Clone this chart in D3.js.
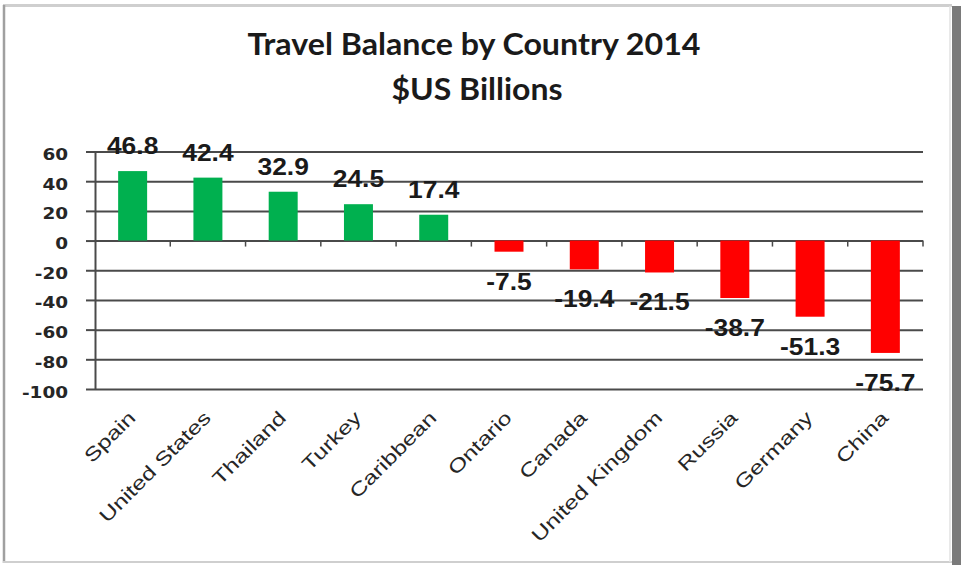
<!DOCTYPE html>
<html>
<head>
<meta charset="utf-8">
<script src="https://cdn.jsdelivr.net/npm/d3@7"></script>
<style>
  html, body { margin: 0; padding: 0; background: #ffffff; }
  svg { display: block; }
</style>
</head>
<body>
<svg id="chart" width="961" height="565"></svg>
<script>
const titleLines = ["Travel Balance by Country 2014", "$US Billions"];
const categories = ["Spain", "United States", "Thailand", "Turkey", "Caribbean", "Ontario", "Canada", "United Kingdom", "Russia", "Germany", "China"];
const values = [46.8, 42.4, 32.9, 24.5, 17.4, -7.5, -19.4, -21.5, -38.7, -51.3, -75.7];
const yTicks = [-100, -80, -60, -40, -20, 0, 20, 40, 60];
const labels = ["46.8", "42.4", "32.9", "24.5", "17.4", "-7.5", "-19.4", "-21.5", "-38.7", "-51.3", "-75.7"];

const svg = d3.select("#chart");
const W = 961, H = 565;
const plot = { left: 95, right: 923, top: 151.5, bottom: 389 };

// frame
svg.append("rect").attr("x", 0).attr("y", 0).attr("width", W).attr("height", H).attr("fill", "#ffffff");
svg.append("rect").attr("x", 952).attr("y", 6).attr("width", 9).attr("height", 559).attr("fill", "#7a7a7a");
svg.append("line").attr("x1", 3).attr("x2", 952).attr("y1", 5.5).attr("y2", 5.5).attr("stroke", "#cfcfcf").attr("stroke-width", 3);
svg.append("line").attr("x1", 4).attr("x2", 4).attr("y1", 5).attr("y2", 563).attr("stroke", "#a0a0a0").attr("stroke-width", 2.5);
svg.append("line").attr("x1", 3).attr("x2", 952).attr("y1", 562).attr("y2", 562).attr("stroke", "#cfcfcf").attr("stroke-width", 2);
svg.append("line").attr("x1", 950).attr("x2", 950).attr("y1", 6).attr("y2", 562).attr("stroke", "#e2e2e2").attr("stroke-width", 1.5);

const x = d3.scaleBand().domain(categories).range([plot.left, plot.right]).paddingInner(0.615).paddingOuter(0.3075);
const y = d3.scaleLinear().domain([-100, 60]).range([plot.bottom, plot.top]);

function stretch(sel, k) {
  sel.each(function () {
    const len = this.getComputedTextLength();
    d3.select(this).attr("textLength", len * k).attr("lengthAdjust", "spacingAndGlyphs");
  });
}

// title
const title = svg.append("g").attr("font-family", "Lato, 'Open Sans', sans-serif").attr("font-weight", "bold").attr("fill", "#1a1a1a").attr("text-anchor", "middle");
const t1 = title.append("text").attr("x", 474).attr("y", 55).attr("font-size", 30).text(titleLines[0]);
const t2 = title.append("text").attr("x", 477).attr("y", 100).attr("font-size", 30).text(titleLines[1]);
[[t1, 453], [t2, 171]].forEach(([t, w]) => { t.attr("textLength", w).attr("lengthAdjust", "spacingAndGlyphs"); });

// grid lines
const grid = svg.append("g").attr("transform", `translate(${plot.left},0)`)
  .call(d3.axisLeft(y).tickValues(yTicks).tickSize(-(plot.right - plot.left)).tickFormat(""));
grid.select(".domain").remove();
grid.selectAll(".tick line").attr("stroke", "#4a4a4a").attr("stroke-width", 2);

// y axis with tick marks and labels
const yAxis = svg.append("g").attr("transform", `translate(${plot.left},0)`)
  .call(d3.axisLeft(y).tickValues(yTicks).tickSize(9).tickPadding(18).tickSizeOuter(0).tickFormat(d => String(d)));
yAxis.select(".domain").attr("stroke", "#4a4a4a").attr("stroke-width", 2);
yAxis.selectAll(".tick line").attr("stroke", "#4a4a4a").attr("stroke-width", 2);
yAxis.selectAll(".tick text")
  .attr("font-family", "'DejaVu Sans', sans-serif").attr("font-weight", "bold").attr("font-size", 16)
  .attr("fill", "#262626").attr("dy", "0.5em");
stretch(yAxis.selectAll(".tick text"), 1.15);

// bars
svg.append("g").selectAll("rect").data(values).join("rect")
  .attr("x", (d, i) => x(categories[i]))
  .attr("width", x.bandwidth())
  .attr("y", d => y(Math.max(0, d)))
  .attr("height", d => Math.abs(y(d) - y(0)))
  .attr("fill", d => d >= 0 ? "#00b04f" : "#ff0000");

// x axis ticks at band boundaries on zero line
const boundaries = d3.range(1, categories.length + 1).map(i => plot.left + i * x.step());
svg.append("g").selectAll("line").data(boundaries).join("line")
  .attr("x1", d => d).attr("x2", d => d)
  .attr("y1", y(0)).attr("y2", y(0) + 6)
  .attr("stroke", "#4a4a4a").attr("stroke-width", 1.5);

// data labels
const dl = svg.append("g").attr("font-family", "'Liberation Sans', Arial, sans-serif").attr("font-weight", "bold")
  .attr("font-size", 24).attr("fill", "#1a1a1a").attr("text-anchor", "middle");
dl.selectAll("text").data(values).join("text")
  .attr("x", (d, i) => x(categories[i]) + x.bandwidth() / 2)
  .attr("y", d => d >= 0 ? y(d) - 17 : y(d) + 38)
  .text((d, i) => labels[i]);
stretch(dl.selectAll("text"), 1.1);

// category labels
const cl = svg.append("g").attr("font-family", "'Liberation Sans', Arial, sans-serif")
  .attr("font-size", 19).attr("fill", "#262626").attr("text-anchor", "end");
cl.selectAll("text").data(categories).join("text")
  .attr("transform", d => `translate(${x(d) + x.bandwidth() / 2 + 4},419) rotate(-45)`)
  .text(d => d);
stretch(cl.selectAll("text"), 1.3);
</script>
</body>
</html>
